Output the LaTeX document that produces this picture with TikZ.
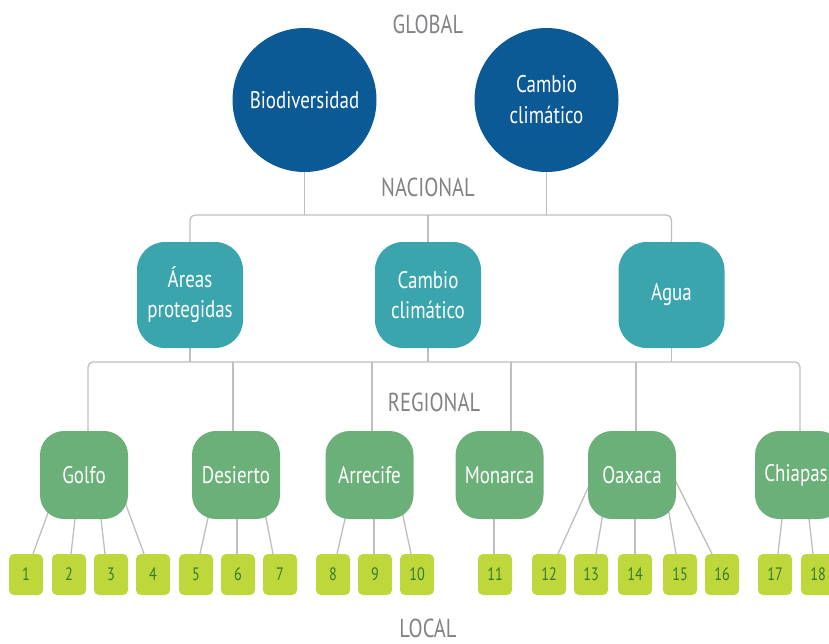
\documentclass[tikz,border=0pt]{standalone}
\usepackage{fontspec}
\setmainfont{PT Sans}[FakeStretch=0.79]
\usetikzlibrary{calc,backgrounds}
\definecolor{dblue}{HTML}{0B5995}
\definecolor{cteal}{HTML}{3AA5AD}
\definecolor{cgreen}{HTML}{6BAF79}
\definecolor{clime}{HTML}{BED73A}
\definecolor{cnum}{HTML}{357A33}
\definecolor{cline}{HTML}{BDBEC0}
\definecolor{clabel}{HTML}{808285}
\begin{document}
\begin{tikzpicture}[x=1pt,y=-1pt,
  circ/.style={circle, fill=dblue, minimum size=144, inner sep=0, text=white, font=\fontsize{24}{31}\selectfont, align=center},
  nat/.style={rectangle, rounded corners=28, fill=cteal, minimum size=106, inner sep=0, text=white, font=\fontsize{24}{30}\selectfont, align=center},
  reg/.style={rectangle, rounded corners=24, fill=cgreen, minimum size=88, inner sep=0, text=white, font=\fontsize{24}{30}\selectfont, align=center},
  loc/.style={rectangle, rounded corners=5, fill=clime, minimum width=34, minimum height=41, inner sep=0, text=cnum, font=\fontsize{18}{20}\selectfont},
  lvl/.style={text=clabel, font=\fontsize{26}{30}\selectfont, inner sep=0},
  conn/.style={draw=cline, line width=1.3}]
\useasboundingbox (0,0) rectangle (829,643);
% level labels
\node[lvl] (lglobal) at (428,24) {GLOBAL};
\node[lvl] (lnacional) at (428,187) {NACIONAL};
\node[lvl] (lregional) at (434,402) {REGIONAL};
\node[lvl] (llocal) at (428,628) {LOCAL};
% global
\node[circ] (bio) at (304.5,100) {Biodiversidad};
\node[circ] (ccg) at (546.5,100) {Cambio\\climático};
% national
\node[nat] (areas) at (190,295) {Áreas\\protegidas};
\node[nat] (ccn) at (428,295) {Cambio\\climático};
\node[nat] (agua) at (671.5,295) {Agua};
% regional
\node[reg] (golfo) at (84,475) {Golfo};
\node[reg] (desierto) at (236,475) {Desierto};
\node[reg] (arrecife) at (369.5,475) {Arrecife};
\node[reg] (monarca) at (499.5,475) {Monarca};
\node[reg] (oaxaca) at (632,475) {Oaxaca};
\node[reg] (chiapas) at (799,475) {Chiapas\hspace{6pt}};
% local
\foreach \n/\x in {1/26,2/69,3/111,4/153,5/196,6/238,7/280,8/333,9/375,10/417,11/495,12/549,13/591,14/635,15/680,16/722,17/775,18/818}
  \node[loc] (s\n) at (\x,574.5) {\n};
\begin{pgfonlayer}{background}
\coordinate (bus1) at (428,215);
\coordinate (bus2) at (428,362);
\draw[conn] (bio.south) -- (bio.south |- bus1);
\draw[conn] (ccg.south) -- (ccg.south |- bus1);
\draw[conn, rounded corners=5] (areas.north) |- (bus1) -| (agua.north);
\draw[conn] (ccn.north) -- (bus1);
\draw[conn] (areas.south) -- (areas.south |- bus2);
\draw[conn] (ccn.south) -- (bus2);
\draw[conn] (agua.south) -- (agua.south |- bus2);
\coordinate (gtop) at ($(golfo.north)+(4,0)$);
\coordinate (dtop) at ($(desierto.north)+(-3,0)$);
\coordinate (atop) at ($(arrecife.north)+(2.5,0)$);
\coordinate (mtop) at ($(monarca.north)+(11.5,0)$);
\coordinate (otop) at ($(oaxaca.north)+(4,0)$);
\coordinate (ctop) at ($(chiapas.north)+(1,0)$);
\draw[conn, rounded corners=5] (gtop) |- (bus2) -| (ctop);
\foreach \t in {dtop,atop,mtop,otop} \draw[conn] (\t) -- (\t |- bus2);
% local connectors
\draw[conn] ($(s1.north)+(7,0)$) -- ($(golfo.center)+(-28.5,17.5)$);
\draw[conn] ($(s2.north)+(2,0)$) -- ($(golfo.center)+(-7,26.5)$);
\draw[conn] ($(s3.north)+(-6,0)$) -- ($(golfo.center)+(15,26.5)$);
\draw[conn] ($(s4.north)+(-9,0)$) -- ($(golfo.center)+(33,5.5)$);
\draw[conn] ($(s5.north)+(4,0)$) -- ($(desierto.center)+(-24,25)$);
\draw[conn] ($(s6.north)+(-1,0)$) -- ($(desierto.center)+(1,25)$);
\draw[conn] ($(s7.north)+(-7,0)$) -- ($(desierto.center)+(26.5,25)$);
\draw[conn] ($(s8.north)+(4,0)$) -- ($(arrecife.center)+(-20.5,26.5)$);
\draw[conn] ($(s9.north)+(-1,0)$) -- ($(arrecife.center)+(4.5,25)$);
\draw[conn] ($(s10.north)+(-6,0)$) -- ($(arrecife.center)+(29.5,22)$);
\draw[conn] ($(s11.north)+(-1,0)$) -- ($(monarca.center)+(-5.5,25)$);
\draw[conn] ($(s12.north)+(9,0)$) -- ($(oaxaca.center)+(-35,-7)$);
\draw[conn] ($(s13.north)+(5,0)$) -- ($(oaxaca.center)+(-27,26.5)$);
\draw[conn] ($(s14.north)+(0,0)$) -- ($(oaxaca.center)+(3,25)$);
\draw[conn] ($(s15.north)+(-4,0)$) -- ($(oaxaca.center)+(35,26.5)$);
\draw[conn] ($(s16.north)+(-10,0)$) -- ($(oaxaca.center)+(33,-15)$);
\draw[conn] ($(s17.north)+(3,0)$) -- ($(chiapas.center)+(-15,26.5)$);
\draw[conn] ($(s18.north)+(-5,0)$) -- ($(chiapas.center)+(8,26.5)$);
\end{pgfonlayer}
\end{tikzpicture}
\end{document}
